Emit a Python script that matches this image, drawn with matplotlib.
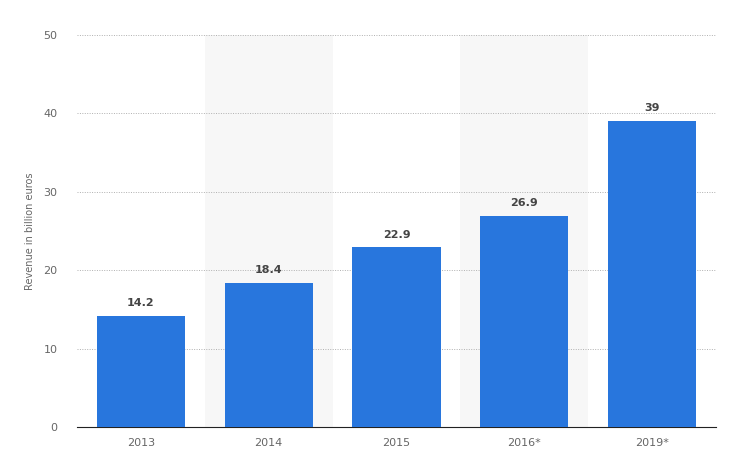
import matplotlib
matplotlib.use("Agg")
import matplotlib.pyplot as plt

categories = ["2013", "2014", "2015", "2016*", "2019*"]
values = [14.2, 18.4, 22.9, 26.9, 39]
yticks = [0, 10, 20, 30, 40, 50]

fig = plt.figure(figsize=(7.31, 4.67), dpi=100)
ax = fig.add_axes([77/731, 40/467, 639/731, 392/467])
x = list(range(len(categories)))
for i in x:
    if i % 2 == 1:
        ax.axvspan(i - 0.5, i + 0.5, color="#f7f7f7", zorder=0, lw=0)
ax.bar(x, values, width=0.69, color="#2876dd", zorder=3)
for i, v in zip(x, values):
    ax.text(i, v + 1.0, f"{v:g}", ha="center", va="bottom", fontsize=8,
            fontweight="bold", color="#444444")
ax.set_xlim(-0.5, len(categories) - 0.5)
ax.set_ylim(0, 50)
ax.set_yticks(yticks)
ax.set_xticks(x)
ax.set_xticklabels(categories)
ax.grid(axis="y", linestyle=(0, (1, 1.5)), color="#b0b0b0", lw=0.7, zorder=1)
for s in ["top", "right", "left"]:
    ax.spines[s].set_visible(False)
ax.spines["bottom"].set_color("#222222")
ax.tick_params(axis="both", length=0, labelsize=8, labelcolor="#666666", pad=8)
ax.tick_params(axis="y", pad=14)
ax.set_ylabel("Revenue in billion euros", fontsize=7, color="#666666", labelpad=6)
fig.savefig("out.png", dpi=100)
